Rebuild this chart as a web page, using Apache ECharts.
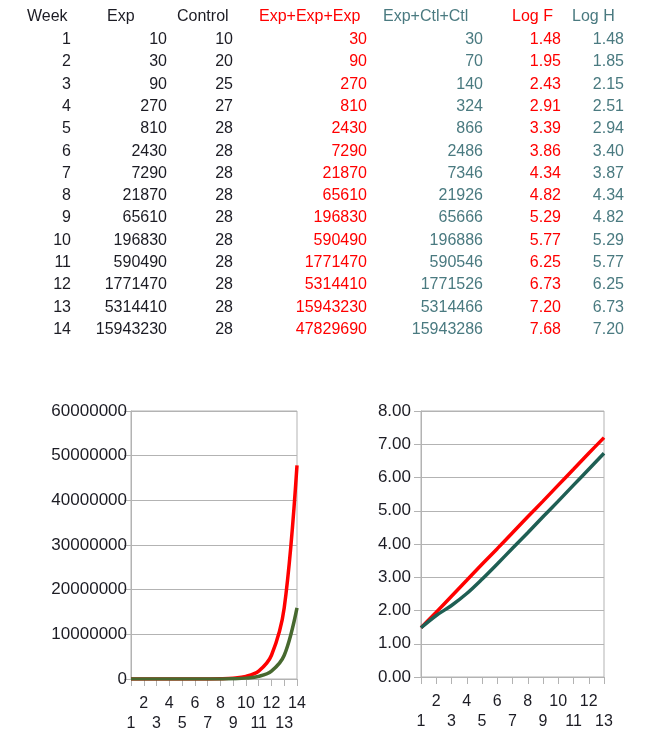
<!DOCTYPE html>
<html><head><meta charset="utf-8">
<script src="https://cdn.jsdelivr.net/npm/echarts@6/dist/echarts.min.js"></script>
<style>
html,body{margin:0;padding:0;background:#fff;}
#wrap{position:relative;width:669px;height:739px;overflow:hidden;}
#chart{position:absolute;left:0;top:0;width:669px;height:739px;}
.cell{position:absolute;font-family:"Liberation Sans",Arial,sans-serif;font-size:16px;line-height:20px;white-space:nowrap;}
</style></head><body>
<div id="wrap"><div id="chart"></div><div id="table"></div></div>
<script>
const weeks = [1,2,3,4,5,6,7,8,9,10,11,12,13,14];
const exp = [10,30,90,270,810,2430,7290,21870,65610,196830,590490,1771470,5314410,15943230];
const control = [10,20,25,27,28,28,28,28,28,28,28,28,28,28];
const expExpExp = [30,90,270,810,2430,7290,21870,65610,196830,590490,1771470,5314410,15943230,47829690];
const expCtlCtl = [30,70,140,324,866,2486,7346,21926,65666,196886,590546,1771526,5314466,15943286];
const logF = [1.48,1.95,2.43,2.91,3.39,3.86,4.34,4.82,5.29,5.77,6.25,6.73,7.20,7.68];
const logH = [1.48,1.85,2.15,2.51,2.94,3.40,3.87,4.34,4.82,5.29,5.77,6.25,6.73,7.20];
const headers = ['Week','Exp','Control','Exp+Exp+Exp','Exp+Ctl+Ctl','Log F','Log H'];
const leftTicks = [0,10000000,20000000,30000000,40000000,50000000,60000000];
const rightTicks = [0,1,2,3,4,5,6,7,8];

const RED = '#ff0000', TEAL = '#4a7a80', BLK = '#1c1c24';
const FONT = '"Liberation Sans", Arial, sans-serif';

// ---- table ----
const table = document.getElementById('table');
const cols = [
  {vals: weeks, right: 71, headLeft: 27, color: BLK, fmt: v => String(v)},
  {vals: exp, right: 167, headLeft: 107, color: BLK, fmt: v => String(v)},
  {vals: control, right: 233, headLeft: 177, color: BLK, fmt: v => String(v)},
  {vals: expExpExp, right: 367, headLeft: 259, color: RED, fmt: v => String(v)},
  {vals: expCtlCtl, right: 483, headLeft: 383, color: TEAL, fmt: v => String(v)},
  {vals: logF, right: 561, headLeft: 512, color: RED, fmt: v => v.toFixed(2)},
  {vals: logH, right: 624, headLeft: 572, color: TEAL, fmt: v => v.toFixed(2)}
];
const headY = 16, row0 = 39, rowH = 22.3;
cols.forEach((c, ci) => {
  const h = document.createElement('div');
  h.className = 'cell';
  h.textContent = headers[ci];
  h.style.left = c.headLeft + 'px';
  h.style.top = (headY - 10) + 'px';
  h.style.color = c.color;
  table.appendChild(h);
  c.vals.forEach((v, i) => {
    const d = document.createElement('div');
    d.className = 'cell';
    d.textContent = c.fmt(v);
    d.style.right = (669 - c.right) + 'px';
    d.style.top = (row0 + i * rowH - 10) + 'px';
    d.style.color = c.color;
    table.appendChild(d);
  });
});

// ---- charts ----
const chart = echarts.init(document.getElementById('chart'), null, {renderer: 'canvas'});
const stagger = (v, i) => (i % 2 === 0 ? '\n' + v : v);
const gridLine = '#b3b3b3';
function xAx(gi, cats) {
  return {
    type: 'category', gridIndex: gi, data: cats, boundaryGap: false,
    axisLine: {show: true, lineStyle: {color: gridLine, width: 1}},
    axisTick: {show: true, length: 7, interval: 0, lineStyle: {color: gridLine}},
    axisLabel: {interval: 0, formatter: stagger, lineHeight: 20, margin: 15,
                color: BLK, fontSize: 16, fontFamily: FONT},
    splitLine: {show: false}
  };
}
function yAx(gi, ticks, margin, fmt) {
  return {
    type: 'value', gridIndex: gi, min: ticks[0], max: ticks[ticks.length - 1],
    interval: ticks[1] - ticks[0],
    axisLine: {show: true, lineStyle: {color: gridLine, width: 1}},
    axisTick: {show: true, length: 7, lineStyle: {color: gridLine}},
    axisLabel: {margin: margin, formatter: fmt, color: BLK, fontSize: 17, fontFamily: FONT},
    splitLine: {show: true, lineStyle: {color: gridLine, width: 1}}
  };
}
const option = {
  animation: false,
  backgroundColor: 'transparent',
  grid: [
    {left: 131, right: 372, top: 411, bottom: 60, show: true, borderColor: gridLine, borderWidth: 1, containLabel: false},
    {left: 421, right: 65, top: 411, bottom: 62, show: true, borderColor: gridLine, borderWidth: 1, containLabel: false}
  ],
  xAxis: [xAx(0, weeks.map(String)), xAx(1, weeks.slice(0, 13).map(String))],
  yAxis: [
    yAx(0, leftTicks, 4, v => String(v)),
    yAx(1, rightTicks, 10, v => v.toFixed(2))
  ],
  series: [
    {type: 'line', xAxisIndex: 0, yAxisIndex: 0, data: expExpExp, smooth: 0.35, showSymbol: false,
     lineStyle: {color: RED, width: 3.5}, itemStyle: {color: RED}},
    {type: 'line', xAxisIndex: 0, yAxisIndex: 0, data: expCtlCtl, smooth: 0.35, showSymbol: false,
     lineStyle: {color: '#47692f', width: 3.5}, itemStyle: {color: '#47692f'}},
    {type: 'line', xAxisIndex: 1, yAxisIndex: 1, data: logF.slice(0, 13), smooth: 0.35, showSymbol: false,
     lineStyle: {color: RED, width: 3.5}, itemStyle: {color: RED}},
    {type: 'line', xAxisIndex: 1, yAxisIndex: 1, data: logH.slice(0, 13), smooth: 0.35, showSymbol: false,
     lineStyle: {color: '#1f5f54', width: 3.5}, itemStyle: {color: '#1f5f54'}}
  ]
};
chart.setOption(option);
</script>
</body></html>
